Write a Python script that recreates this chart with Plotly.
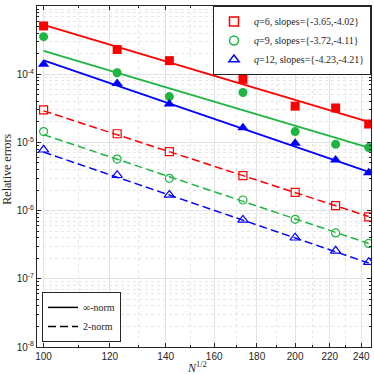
import plotly.graph_objects as go
import numpy as np

# N^(1/2) values
sqrt_n = [100.0, 122.47, 141.42, 173.21, 200.0, 223.61, 244.95]

# relative errors, inf-norm (filled markers)
inf_q6 = [5.1e-4, 2.3e-4, 1.58e-4, 8.4e-5, 3.4e-5, 3.2e-5, 1.86e-5]
inf_q9 = [3.55e-4, 1.05e-4, 4.7e-5, 5.4e-5, 1.44e-5, 9.4e-6, 8.4e-6]
inf_q12 = [1.4e-4, 7.3e-5, 3.65e-5, 1.64e-5, 9.7e-6, 5.5e-6, 3.6e-6]

# relative errors, 2-norm (open markers)
two_q6 = [3.0e-5, 1.34e-5, 7.3e-6, 3.25e-6, 1.85e-6, 1.18e-6, 8.1e-7]
two_q9 = [1.44e-5, 5.7e-6, 2.97e-6, 1.43e-6, 7.45e-7, 4.7e-7, 3.3e-7]
two_q12 = [7.8e-6, 3.3e-6, 1.7e-6, 7.3e-7, 4.0e-7, 2.57e-7, 1.75e-7]

# fitted lines (value at first and last N^(1/2))
fit_x = [100.0, 244.95]
fit_inf_q6 = [5.3e-4, 2.0e-5]
fit_inf_q9 = [2.2e-4, 8.4e-6]
fit_inf_q12 = [1.6e-4, 3.7e-6]
fit_two_q6 = [2.9e-5, 8.2e-7]
fit_two_q9 = [1.3e-5, 3.3e-7]
fit_two_q12 = [7.2e-6, 1.7e-7]

legend_labels = ["<i>q</i>=6, slopes={-3.65,-4.02}",
                 "<i>q</i>=9, slopes={-3.72,-4.11}",
                 "<i>q</i>=12, slopes={-4.23,-4.21}"]

x_ticks = [100, 120, 140, 160, 180, 200, 220, 240]
y_exps = [-8, -7, -6, -5, -4, -3]

RED = "#ff0000"
GREEN = "#1fb542"
BLUE = "#0000ff"
SERIF = "Liberation Serif"
SANS = "Liberation Sans"
INK = "#262626"
DASH = "8px,4px"

series = [
    (inf_q6, two_q6, fit_inf_q6, fit_two_q6, RED, "square"),
    (inf_q9, two_q9, fit_inf_q9, fit_two_q9, GREEN, "circle"),
    (inf_q12, two_q12, fit_inf_q12, fit_two_q12, BLUE, "triangle-up"),
]

fig = go.Figure()

for inf_vals, two_vals, fit_inf, fit_two, color, symbol in series:
    fig.add_trace(go.Scatter(x=fit_x, y=fit_inf, mode="lines", showlegend=False,
                             line=dict(color=color, width=1.8)))
    fig.add_trace(go.Scatter(x=fit_x, y=fit_two, mode="lines", showlegend=False,
                             line=dict(color=color, width=1.5, dash=DASH)))
    size = 9 if symbol != "triangle-up" else 10
    fig.add_trace(go.Scatter(x=sqrt_n, y=inf_vals, mode="markers", showlegend=False,
                             marker=dict(symbol=symbol, size=size, color=color)))
    fig.add_trace(go.Scatter(x=sqrt_n, y=two_vals, mode="markers", showlegend=False,
                             marker=dict(symbol=symbol + "-open", size=size - 1, color=color,
                                         line=dict(width=1.2, color=color))))

# legend 1: marker types
for (_, _, _, _, color, symbol), label in zip(series, legend_labels):
    fig.add_trace(go.Scatter(x=[None], y=[None], mode="markers", name=label,
                             marker=dict(symbol=symbol + "-open", size=9, color=color,
                                         line=dict(width=1.5, color=color)),
                             legend="legend"))

# legend 2: line styles
fig.add_trace(go.Scatter(x=[None], y=[None], mode="lines", name="∞-norm",
                         line=dict(color="black", width=1.5), legend="legend2"))
fig.add_trace(go.Scatter(x=[None], y=[None], mode="lines", name="2-norm",
                         line=dict(color="black", width=1.5, dash=DASH), legend="legend2"))

y_minor = [k * 10.0 ** e for e in range(-8, -3) for k in range(2, 10)]
x_minor = [110, 130, 150, 170, 190, 210, 230]

axis_common = dict(showline=True, linecolor=INK, linewidth=1, mirror="ticks",
                   ticks="inside", ticklen=4, tickcolor=INK,
                   showgrid=True, gridcolor="#e3e3e3", gridwidth=1, zeroline=False,
                   automargin=False,
                   tickfont=dict(family=SANS, size=10, color=INK))

fig.update_xaxes(type="log", range=[np.log10(98.2), np.log10(246.5)],
                 tickvals=x_ticks, ticktext=[str(v) for v in x_ticks],
                 minor=dict(tickvals=x_minor, ticks="inside", ticklen=2, tickcolor=INK,
                            showgrid=True, gridcolor="#e6e6e6", griddash="dot"),
                 **axis_common)
fig.update_yaxes(type="log", range=[-8, -3],
                 tickvals=[10.0 ** e for e in y_exps],
                 ticktext=["10<sup>%d</sup>" % e for e in y_exps],
                 minor=dict(tickvals=y_minor, ticks="inside", ticklen=2, tickcolor=INK,
                            showgrid=True, gridcolor="#e6e6e6", griddash="dot"),
                 **axis_common)

# axis titles as annotations
fig.add_annotation(text="<i>N</i><sup>1/2</sup>", xref="paper", yref="paper",
                   x=0.48, y=0, yshift=-20, xanchor="center", yanchor="middle", showarrow=False,
                   font=dict(family=SERIF, size=12, color=INK))
fig.add_annotation(text="Relative errors", xref="paper", yref="paper",
                   x=0, y=0.52, xshift=-30, xanchor="center", yanchor="middle",
                   textangle=-90, showarrow=False,
                   font=dict(family=SERIF, size=12, color=INK))

fig.update_layout(
    width=374, height=375,
    margin=dict(l=37, r=3, t=6, b=28),
    plot_bgcolor="white", paper_bgcolor="white",
    legend=dict(x=1, y=1, xanchor="right", yanchor="top",
                bgcolor="white", bordercolor=INK, borderwidth=1,
                font=dict(family=SERIF, size=10, color=INK),
                tracegroupgap=0, itemwidth=30),
    legend2=dict(x=0.015, y=0.015, xanchor="left", yanchor="bottom",
                 bgcolor="white", bordercolor=INK, borderwidth=1,
                 font=dict(family=SERIF, size=10, color=INK),
                 tracegroupgap=0, itemwidth=30),
)

fig.write_html("out.html", config={"displayModeBar": False},
               post_script="document.body.style.margin='0px';")
